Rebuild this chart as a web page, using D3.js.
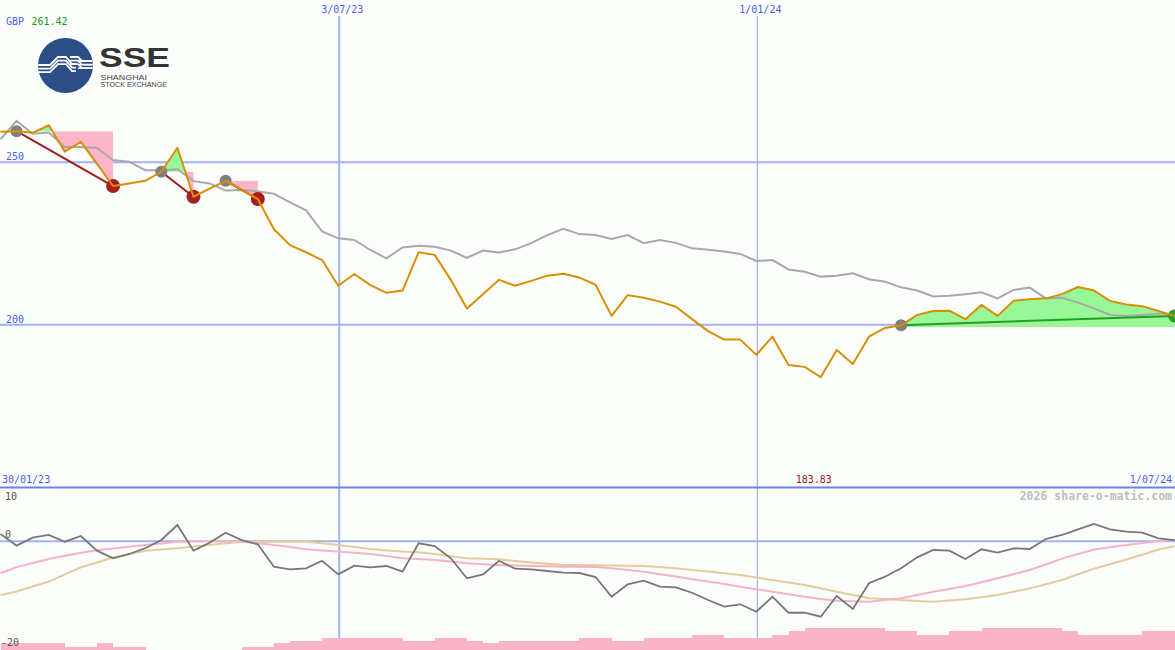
<!DOCTYPE html>
<html><head><meta charset="utf-8">
<script src="https://cdn.jsdelivr.net/npm/d3@7"></script>
<style>html,body{margin:0;padding:0;background:#fcfefc;}svg{display:block}</style>
</head><body><svg id="c" width="1175" height="650"></svg>
<script>
// ---- data ----
const startDate = "2023-02-06";   // first weekly close
const endDate = "2024-07-01";     // last weekly close
const currency = "GBP";
const price = [259.4, 259.6, 259.1, 261.42, 253.3, 256.3, 249.5, 242.7, 243.5, 244.3,
 247.1, 254.5, 239.4, 241.9, 244.3, 241.5, 238.7, 229.4, 224.5, 222.3,
 219.9, 212.0, 215.6, 212.2, 209.8, 210.5, 222.3, 221.5, 213.8, 205.0,
 209.4, 213.8, 212.0, 213.5, 215.1, 215.7, 214.5, 212.3, 202.7, 209.1,
 208.3, 207.1, 205.5, 201.7, 198.0, 195.4, 195.4, 190.7, 196.3, 187.6,
 187.0, 183.83, 192.2, 187.9, 196.3, 199.0, 199.8, 203.0, 204.2, 204.3,
 201.7, 206.1, 202.7, 207.4, 207.8, 208.1, 209.4, 211.6, 210.5, 207.3,
 206.2, 205.7, 204.2, 202.7];
const movingAvg = [257.1, 262.8, 258.8, 259.2, 254.7, 254.7, 254.4, 250.7, 250.2, 247.6,
 247.6, 247.9, 244.2, 243.5, 241.3, 241.5, 241.0, 240.3, 237.7, 235.2,
 228.7, 226.6, 226.1, 223.0, 220.4, 223.8, 224.3, 224.0, 222.8, 220.6,
 222.8, 222.2, 223.2, 225.1, 227.6, 229.5, 227.9, 227.6, 226.4, 227.6,
 225.1, 226.1, 225.2, 223.5, 223.1, 222.5, 221.8, 219.6, 219.9, 217.0,
 216.3, 214.8, 215.1, 215.8, 214.0, 213.2, 211.5, 210.5, 208.7, 208.9,
 209.4, 210.0, 208.1, 210.7, 211.4, 208.1, 208.3, 206.8, 205.0, 203.0,
 202.7, 203.0, 203.4, 203.3];
const oscillator = [1.35, -0.80, 0.67, 1.17, -0.07, 0.98, -1.72, -3.12, -2.33, -1.28,
 0.24, 3.01, -1.72, -0.25, 1.59, 0.24, -0.55, -4.67, -5.15, -4.96,
 -3.57, -6.07, -4.49, -4.78, -4.54, -5.59, -0.36, -0.86, -3.12, -6.80,
 -6.07, -3.57, -5.04, -5.15, -5.46, -5.77, -5.83, -6.57, -10.19, -7.91,
 -7.25, -8.35, -8.46, -9.46, -10.80, -12.03, -11.59, -12.95, -10.19, -13.14,
 -13.14, -13.87, -10.06, -12.46, -7.72, -6.51, -4.96, -2.94, -1.60, -1.72,
 -3.25, -1.47, -2.09, -1.28, -1.41, 0.43, 1.17, 2.21, 3.19, 2.21,
 1.77, 1.59, 0.56, 0.24];
const signalFast = [-5.88, -4.74, -3.99, -3.25, -2.66, -2.09, -1.63, -1.30, -1.01, -0.69,
 -0.38, -0.07, 0.01, 0.06, 0.01, -0.07, -0.36, -0.68, -1.06, -1.47,
 -1.67, -1.89, -2.09, -2.31, -2.70, -3.10, -3.27, -3.44, -3.73, -4.04,
 -4.21, -4.36, -4.45, -4.54, -4.60, -4.67, -4.70, -4.74, -4.96, -5.28,
 -5.59, -6.05, -6.47, -6.97, -7.39, -7.87, -8.35, -8.81, -9.27, -9.73,
 -10.19, -10.63, -10.93, -11.02, -11.11, -10.80, -10.49, -9.88, -9.27, -8.76,
 -8.22, -7.52, -6.80, -6.05, -5.28, -4.26, -3.18, -2.33, -1.52, -1.08,
 -0.68, -0.33, 0.06, 0.24];
const signalSlow = [-9.88, -9.23, -8.31, -7.41, -6.09, -4.78, -3.90, -2.99, -2.37, -1.74,
 -1.50, -1.28, -0.97, -0.68, -0.36, -0.07, -0.07, -0.07, -0.07, -0.07,
 -0.36, -0.66, -1.04, -1.43, -1.67, -1.89, -2.02, -2.33, -2.74, -3.12,
 -3.22, -3.31, -3.60, -3.91, -4.14, -4.36, -4.36, -4.39, -4.45, -4.50,
 -4.54, -4.74, -4.95, -5.28, -5.57, -5.88, -6.20, -6.66, -7.12, -7.58,
 -8.04, -8.65, -9.27, -9.88, -10.49, -10.63, -10.80, -10.96, -11.11, -10.89,
 -10.67, -10.28, -9.88, -9.27, -8.66, -7.89, -7.12, -6.07, -5.02, -4.21,
 -3.33, -2.48, -1.52, -0.90];
const volume = [2.5,2.5,2.5,2.5,1,1,2.5,1,1,0,
 0,0,0,0,0,1,1,2.5,3.3,3.3,
 4.5,4.5,4.5,4.5,4.5,3.3,3.3,4.5,4.5,3.3,
 2.5,3.3,3.3,3.3,3.3,3.3,4.5,4.5,3.3,3.3,
 4.3,4.3,4.3,5.5,5.5,4.3,4.3,4.3,5.5,7,
 8,8,8,8,8,7,7,5.5,5.5,7,
 7,8,8,8,8,8,7,5.5,5.5,5.5,
 5.5,7,7,7];
const tradeEntries = [1, 10, 14, 56];
const tradeExits = [7, 12, 16, 73];
const tradeOpen = [false, false, false, true];
const priceTicks = [250, 200];
const oscTicks = [10, 0, -20];
const dateTicks = ["2023-07-03", "2024-01-01"];
const dateTickLabels = ["3/07/23", "1/01/24"];
const cornerLabels = ["30/01/23", "1/07/24"];
const footer = "2026 share-o-matic.com";

// ---- setup ----
const W = 1175, H = 650, split = 487;
const parse = d3.utcParse("%Y-%m-%d");
const t0 = parse(startDate);
const dates = price.map((_, i) => d3.utcDay.offset(t0, 7 * i));
const x = d3.scaleUtc().domain([t0, parse(endDate)]).range([0.5, 1174.5]);
const yP = d3.scaleLinear().domain([150, 300]).range([split, 0]);
const yO = d3.scaleLinear().domain([-20, 10]).range([H, split]);
const yV = d3.scaleLinear().domain([0, 8]).range([H, 628.3]);
const svg = d3.select("#c");
const FONT = "'DejaVu Sans Mono', monospace";

svg.append("rect").attr("width", W).attr("height", H).attr("fill", "#fcfefc");

// vertical date lines
dateTicks.forEach((d, k) => {
  svg.append("line").attr("x1", x(parse(d)) + 1).attr("x2", x(parse(d)) + 1)
    .attr("y1", 16).attr("y2", H)
    .attr("stroke", "#a3b1f1").attr("stroke-width", k === 0 ? 2 : 1.2);
});
// horizontal grid (price)
priceTicks.forEach(v => {
  svg.append("line").attr("x1", 0).attr("x2", W).attr("y1", yP(v)).attr("y2", yP(v))
    .attr("stroke", "#a3b1f1").attr("stroke-width", 2);
});

// trade fills
const defs = svg.append("defs");
tradeEntries.forEach((e, k) => {
  const lvl = yP(price[e]);
  defs.append("clipPath").attr("id", "up" + k).append("rect")
    .attr("x", 0).attr("y", 0).attr("width", W).attr("height", lvl + (tradeOpen[k] ? 2 : 0));
  defs.append("clipPath").attr("id", "dn" + k).append("rect")
    .attr("x", 0).attr("y", lvl).attr("width", W).attr("height", split - lvl);
  const idx = d3.range(e, tradeExits[k] + 1);
  const area = d3.area().x(i => x(dates[i])).y0(lvl + (tradeOpen[k] ? 2 : 0)).y1(i => yP(price[i]));
  svg.append("path").attr("d", area(idx)).attr("fill", "#98f898").attr("clip-path", `url(#up${k})`);
  const area2 = d3.area().x(i => x(dates[i])).y0(lvl).y1(i => yP(price[i]));
  svg.append("path").attr("d", area2(idx)).attr("fill", "#fcb5c9").attr("clip-path", `url(#dn${k})`);
});

// moving average
const lineP = arr => d3.line().x((d, i) => x(dates[i])).y(d => yP(d))(arr);
svg.append("path").attr("d", lineP(movingAvg)).attr("fill", "none")
  .attr("stroke", "#a9a9a9").attr("stroke-width", 2);

// trade lines + markers
tradeEntries.forEach((e, k) => {
  const xe = tradeExits[k];
  const win = price[xe] >= price[e];
  svg.append("line").attr("x1", x(dates[e])).attr("y1", yP(price[e]))
    .attr("x2", x(dates[xe])).attr("y2", yP(price[xe]))
    .attr("stroke", win ? "#22a022" : "#a01c1c").attr("stroke-width", 2);
});
tradeEntries.forEach((e, k) => {
  const xe = tradeExits[k];
  const win = price[xe] >= price[e];
  svg.append("circle").attr("cx", x(dates[e])).attr("cy", yP(price[e])).attr("r", 6).attr("fill", "#808080");
  svg.append("circle").attr("cx", x(dates[xe])).attr("cy", yP(price[xe])).attr("r", win ? 6.5 : 7)
    .attr("fill", win ? "#2a9d2a" : "#a81e1e");
});

// price line
svg.append("path").attr("d", lineP(price)).attr("fill", "none")
  .attr("stroke", "#d98f05").attr("stroke-width", 2).attr("stroke-linejoin", "round");

// ---- lower panel ----
svg.append("line").attr("x1", 0).attr("x2", W).attr("y1", yO(0)).attr("y2", yO(0))
  .attr("stroke", "#a3b1f1").attr("stroke-width", 2);
const step = x(dates[1]) - x(dates[0]);
svg.append("g").selectAll("rect").data(volume).join("rect")
  .attr("x", (d, i) => x(dates[i]))
  .attr("width", step + 0.3)
  .attr("y", d => yV(d)).attr("height", d => yV(0) - yV(d))
  .attr("fill", "#f9b4c9").attr("shape-rendering", "crispEdges");
const lineO = arr => d3.line().x((d, i) => x(dates[i])).y(d => yO(d))(arr);
svg.append("path").attr("d", lineO(signalSlow)).attr("fill", "none").attr("stroke", "#e4cc9c").attr("stroke-width", 2);
svg.append("path").attr("d", lineO(signalFast)).attr("fill", "none").attr("stroke", "#f8b2c8").attr("stroke-width", 2);
svg.append("path").attr("d", lineO(oscillator)).attr("fill", "none").attr("stroke", "#777777").attr("stroke-width", 1.8);

// separator
svg.append("line").attr("x1", 0).attr("x2", W).attr("y1", split + 0.5).attr("y2", split + 0.5)
  .attr("stroke", "#6f80ea").attr("stroke-width", 2.2);

// ---- text ----
const txt = (s, xx, yy, col, anchor, size, weight) => svg.append("text").text(s)
  .attr("x", xx).attr("y", yy).attr("fill", col).attr("text-anchor", anchor || "start")
  .attr("font-family", FONT).attr("font-size", size || 10).attr("font-weight", weight || "normal");

const maxV = d3.max(price), minV = d3.min(price);
const iMin = price.indexOf(minV);
txt(currency, 6, 25, "#4a5ef2");
txt(maxV.toFixed(2), 31.5, 25, "#1f9a1f");
priceTicks.forEach(v => txt(String(v), 6, yP(v) - 2, "#4a5ef2"));
dateTicks.forEach((d, k) => txt(dateTickLabels[k], x(parse(d)) + 4, 13, "#4a5ef2", "middle"));
txt(cornerLabels[0], 2, 483, "#4a5ef2");
txt(cornerLabels[1], 1172, 483, "#4a5ef2", "end");
txt(minV.toFixed(2), x(dates[iMin]) - 7, 483, "#a01c1c", "middle");
txt(footer, 1172, 500, "#bdbdbd", "end", 11.5, "bold");
oscTicks.forEach(v => {
  const yy = v === 10 ? 499.5 : (v === -20 ? 646 : yO(v) - 3.5);
  txt(String(v), v < 0 ? 1 : 5, yy, "#555555");
});

// ---- logo ----
const logo = svg.append("g");
defs.append("clipPath").attr("id", "logoClip").append("circle").attr("cx", 65.5).attr("cy", 65.5).attr("r", 27.5);
logo.append("circle").attr("cx", 65.5).attr("cy", 65.5).attr("r", 27.5).attr("fill", "#2c4e86");
const stripes = logo.append("g").attr("clip-path", "url(#logoClip)").attr("fill", "none")
  .attr("stroke", "#ffffff").attr("stroke-width", 1.8);
[0, 3.6, 7.2].forEach(o => {
  stripes.append("path").attr("d", `M36,${65 + o} H50 L${58},${57 + o} H66 L${72},${64 + o} H76`);
  stripes.append("path").attr("d", `M70,${57 + o} H78 L${82},${61 + o} H95`);
});
stripes.append("path").attr("d", "M78,61 H92 M78,64.6 H92 M78,68.2 H92").attr("stroke-width", 1.4);
logo.append("text").text("SSE").attr("x", 99).attr("y", 67.3)
  .attr("font-family", "'Liberation Sans', Arial, sans-serif").attr("font-weight", "bold")
  .attr("font-size", 28.5).attr("fill", "#333333").attr("textLength", 71).attr("lengthAdjust", "spacingAndGlyphs");
const sub = logo.append("text").attr("font-family", "'Liberation Sans', Arial, sans-serif")
  .attr("font-size", 7.6).attr("fill", "#444444");
sub.append("tspan").text("SHANGHAI").attr("x", 100.5).attr("y", 80.4)
  .attr("textLength", 46.5).attr("lengthAdjust", "spacingAndGlyphs");
sub.append("tspan").text("STOCK EXCHANGE").attr("x", 100.5).attr("y", 87.4)
  .attr("textLength", 66.5).attr("lengthAdjust", "spacingAndGlyphs");
</script></body></html>
